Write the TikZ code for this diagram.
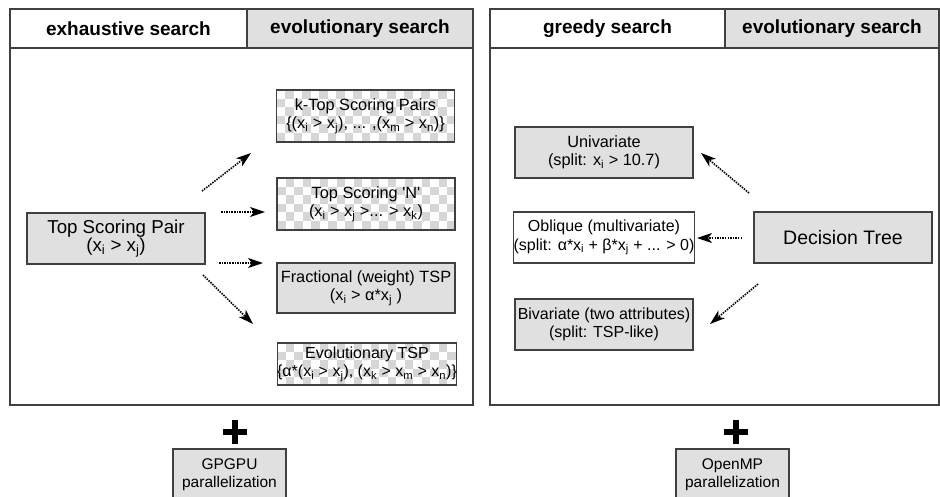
\documentclass[tikz,border=0pt]{standalone}
\usepackage{fontspec}
\setmainfont{Liberation Sans}
\usetikzlibrary{arrows.meta}
\definecolor{boxgray}{HTML}{E0E0E0}
\definecolor{ckgray}{HTML}{D6D6D6}
\definecolor{edge}{HTML}{404040}
\newcommand\sub[1]{\textsubscript{#1}}
\begin{document}
\begin{tikzpicture}[x=1pt,y=-1pt,
  panel/.style={draw=edge,line width=1.5pt},
  hdrtext/.style={font=\fontsize{19}{22}\selectfont\bfseries},
  box/.style={draw=edge,line width=1.2pt,align=center,inner sep=0pt,
    minimum width=178pt,font=\fontsize{16}{18.5}\selectfont},
  graybox/.style={box,fill=boxgray},
  checker/.style={box,fill=white,path picture={
    \foreach \i in {0,...,21}{%
      \foreach \j in {0,...,6}{%
        \pgfmathtruncatemacro\ckp{mod(\i+\j,2)}%
        \ifnum\ckp=1
          \fill[ckgray] ([shift={(\i*8.5,\j*8.5)}]path picture bounding box.north west) rectangle ++(8.5,8.5);
        \fi
      }%
    }}},
  arr/.style={line width=1.6pt,dash pattern=on 1.5pt off 1.1pt,
    -{Stealth[length=15pt,width=10pt,inset=4pt]}},
  plus/.style={line width=6.5pt,draw=black}]
\useasboundingbox (0,0) rectangle (940,496);
\clip (0,0) rectangle (940,496);

% ---------- left panel ----------
\fill[boxgray] (247,9) rectangle (473,48);
\draw[panel] (10,9) rectangle (473,405);
\draw[panel] (10,48) -- (473,48);
\draw[panel] (247,9) -- (247,48);
\node[hdrtext] (hexh) at (128.5,28.5) {exhaustive search};
\node[hdrtext] (hevl) at (360,28.5) {evolutionary search};

\node[graybox,minimum height=51pt,font=\fontsize{18.7}{18}\selectfont] (tsp) at (116,238.5)
  {Top Scoring Pair\\(x\sub{i} > x\sub{j})};
\node[checker,minimum height=52pt,font=\fontsize{16.3}{18.5}\selectfont] (ktop) at (365.5,116)
  {k-Top Scoring Pairs\\\{(x\sub{i} > x\sub{j}), ... ,(x\sub{m} > x\sub{n})\}};
\node[checker,minimum height=52pt,font=\fontsize{16.3}{18.5}\selectfont] (topn) at (366,204)
  {Top Scoring \textquotesingle N\textquotesingle\\(x\sub{i} > x\sub{j} >... > x\sub{k})};
\node[graybox,minimum height=50pt,font=\fontsize{16.3}{18.5}\selectfont] (frac) at (366,288)
  {Fractional (weight) TSP\\(x\sub{i} > α*x\sub{j} )};
\node[checker,minimum height=42pt] (evo) at (367,364)
  {Evolutionary TSP\\\{α*(x\sub{i} > x\sub{j}), (x\sub{k} > x\sub{m} > x\sub{n})\}};

\coordinate (a1s) at (202,191); \coordinate (a1e) at (251,153);
\coordinate (a2s) at (221,212); \coordinate (a2e) at (265,212);
\coordinate (a3s) at (219,263); \coordinate (a3e) at (263,263);
\coordinate (a4s) at (203,275); \coordinate (a4e) at (253,324);
\draw[arr] (a1s) -- (a1e);
\draw[arr] (a2s) -- (a2e);
\draw[arr] (a3s) -- (a3e);
\draw[arr] (a4s) -- (a4e);

% ---------- right panel ----------
\fill[boxgray] (725,9) rectangle (939,48);
\draw[panel] (490,9) rectangle (939,405);
\draw[panel] (490,48) -- (939,48);
\draw[panel] (725,9) -- (725,48);
\node[hdrtext] (hgrd) at (607.5,28.5) {greedy search};
\node[hdrtext] (hevr) at (832,28.5) {evolutionary search};

\node[graybox,minimum height=51pt,font=\fontsize{16.3}{18.5}\selectfont] (uni) at (604,152.5)
  {Univariate\\(split: x\sub{i} > 10.7)};
\node[box,fill=white,minimum height=51pt] (obl) at (604,237.5)
  {Oblique (multivariate)\\(split: α*x\sub{i} + β*x\sub{j} + ... > 0)};
\node[graybox,minimum height=51pt] (biv) at (604,324.5)
  {Bivariate (two attributes)\\(split: TSP-like)};
\node[graybox,minimum height=51pt,font=\fontsize{19.5}{22}\selectfont] (dt) at (843,237.5)
  {Decision Tree};

\coordinate (b1s) at (749,193); \coordinate (b1e) at (701,153);
\coordinate (b2s) at (742,238); \coordinate (b2e) at (697,238);
\coordinate (b3s) at (758,284); \coordinate (b3e) at (710,324);
\draw[arr] (b1s) -- (b1e);
\draw[arr] (b2s) -- (b2e);
\draw[arr] (b3s) -- (b3e);

% ---------- bottom ----------
\draw[plus] (223,432) -- (247,432);
\draw[plus] (235,420) -- (235,444);
\draw[plus] (724,432) -- (748,432);
\draw[plus] (736,420) -- (736,444);

\node[graybox,minimum width=113pt,minimum height=52pt,font=\fontsize{15.5}{18}\selectfont] (gpu) at (229.5,475)
  {GPGPU\\parallelization};
\node[graybox,minimum width=113pt,minimum height=52pt,font=\fontsize{15.5}{18}\selectfont] (omp) at (732.5,475)
  {OpenMP\\parallelization};
\end{tikzpicture}
\end{document}
